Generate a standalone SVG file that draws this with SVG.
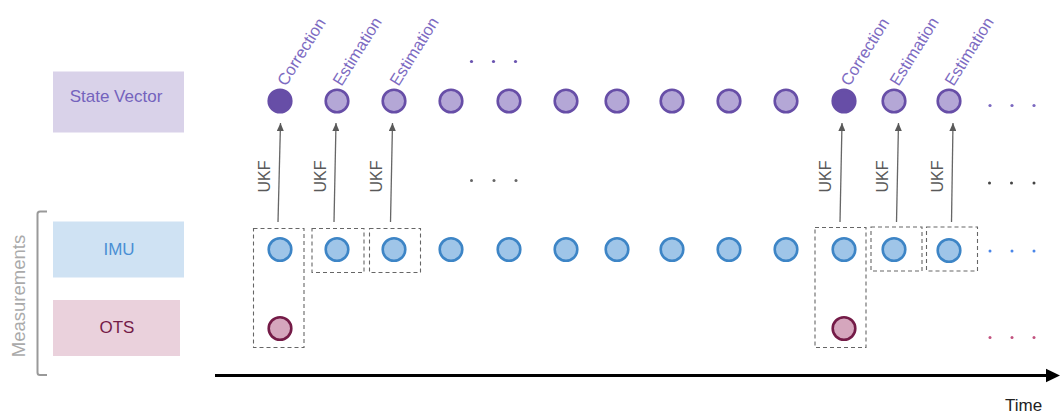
<svg xmlns="http://www.w3.org/2000/svg" width="1060" height="414" viewBox="0 0 1060 414">
<defs>
<marker id="ah" markerWidth="8" markerHeight="7" refX="8" refY="3.5" orient="auto" markerUnits="userSpaceOnUse"><path d="M0,0 L8,3.5 L0,7 Z" fill="#595959"/></marker>
</defs>
<style>
text{font-family:"Liberation Sans",Arial,sans-serif}
.sv{fill:#b4a7d6;stroke:#674ea7;stroke-width:2.6}
.svc{fill:#674ea7;stroke:#674ea7;stroke-width:2.6}
.imu{fill:#9fc5e8;stroke:#3d85c6;stroke-width:2.6}
.ots{fill:#d5a6bd;stroke:#741b47;stroke-width:2.6}
.grp{fill:none;stroke:#666;stroke-width:1.1;stroke-dasharray:4 3}
.conn{stroke:#666;stroke-width:1.3;fill:none}
.ukf{font-size:16px;fill:#595959}
.est{font-size:16.5px;fill:#7d6bc2}
.rowlbl{font-size:17px;text-anchor:middle}
</style>

<g id="row-labels">
<g id="state-vector-label"><rect x="53" y="71.5" width="131" height="61" fill="#d9d2e9"/><text class="rowlbl" x="116" y="101.5" fill="#7463bd">State Vector</text></g>
<g id="imu-label"><rect x="53" y="221.5" width="131" height="56" fill="#cfe2f3"/><text class="rowlbl" x="119" y="255" fill="#4a8fd4">IMU</text></g>
<g id="ots-label"><rect x="53" y="300" width="127" height="56" fill="#ead1dc"/><text class="rowlbl" x="117" y="333" fill="#741b47">OTS</text></g>
<g id="measurements"><path d="M47,211.5 L40,211.5 Q37.5,211.5 37.5,214 L37.5,372.5 Q37.5,375 40,375 L47,375" fill="none" stroke="#999" stroke-width="2"/><text x="0" y="0" transform="translate(25,296) rotate(-90)" font-size="18.5" text-anchor="middle" fill="#aaaaaa">Measurements</text></g>
</g>

<g id="state-vector">
<circle id="sv0" class="svc" cx="280" cy="101" r="11.3"/>
<circle id="sv1" class="sv" cx="337" cy="101" r="11.3"/>
<circle id="sv2" class="sv" cx="394" cy="101" r="11.3"/>
<circle id="sv3" class="sv" cx="451" cy="101" r="11.3"/>
<circle id="sv4" class="sv" cx="509" cy="101" r="11.3"/>
<circle id="sv5" class="sv" cx="566" cy="101" r="11.3"/>
<circle id="sv6" class="sv" cx="617" cy="101" r="11.3"/>
<circle id="sv7" class="sv" cx="672" cy="101" r="11.3"/>
<circle id="sv8" class="sv" cx="729" cy="101" r="11.3"/>
<circle id="sv9" class="sv" cx="786" cy="101" r="11.3"/>
<circle id="sv10" class="svc" cx="844" cy="101" r="11.3"/>
<circle id="sv11" class="sv" cx="894" cy="101" r="11.3"/>
<circle id="sv12" class="sv" cx="949" cy="101" r="11.3"/>
</g>

<g id="state-labels">
<text class="est" x="0" y="0" transform="translate(286,87) rotate(-58)">Correction</text>
<text class="est" x="0" y="0" transform="translate(341.5,87) rotate(-58)">Estimation</text>
<text class="est" x="0" y="0" transform="translate(398.5,87) rotate(-58)">Estimation</text>
<text class="est" x="0" y="0" transform="translate(849.5,87) rotate(-58)">Correction</text>
<text class="est" x="0" y="0" transform="translate(898.5,87) rotate(-58)">Estimation</text>
<text class="est" x="0" y="0" transform="translate(953.5,87) rotate(-58)">Estimation</text>
</g>

<g id="imu">
<circle id="imu0" class="imu" cx="280" cy="249.5" r="11.3"/>
<circle id="imu1" class="imu" cx="337" cy="249.5" r="11.3"/>
<circle id="imu2" class="imu" cx="394" cy="249.5" r="11.3"/>
<circle id="imu3" class="imu" cx="451" cy="249.5" r="11.3"/>
<circle id="imu4" class="imu" cx="509" cy="249.5" r="11.3"/>
<circle id="imu5" class="imu" cx="566" cy="249.5" r="11.3"/>
<circle id="imu6" class="imu" cx="617" cy="249.5" r="11.3"/>
<circle id="imu7" class="imu" cx="672" cy="249.5" r="11.3"/>
<circle id="imu8" class="imu" cx="729" cy="249.5" r="11.3"/>
<circle id="imu9" class="imu" cx="786" cy="249.5" r="11.3"/>
<circle id="imu10" class="imu" cx="844" cy="249.5" r="11.3"/>
<circle id="imu11" class="imu" cx="894" cy="249.5" r="11.3"/>
<circle id="imu12" class="imu" cx="949" cy="250.5" r="11.3"/>
</g>

<g id="ots">
<circle id="ots0" class="ots" cx="280" cy="328.5" r="11.3"/>
<circle id="ots1" class="ots" cx="844" cy="328.5" r="11.3"/>
</g>

<g id="groups">
<rect id="grp0" class="grp" x="253.5" y="228.5" width="50.5" height="119"/>
<rect id="grp1" class="grp" x="312" y="228.5" width="52" height="44"/>
<rect id="grp2" class="grp" x="369.5" y="228.5" width="51" height="44"/>
<rect id="grp3" class="grp" x="815" y="227.5" width="51" height="120"/>
<rect id="grp4" class="grp" x="871" y="227" width="51" height="44"/>
<rect id="grp5" class="grp" x="926.5" y="227" width="51" height="44"/>
</g>

<g id="connectors">
<line class="conn" x1="278" y1="222" x2="280.5" y2="123" marker-end="url(#ah)"/>
<line class="conn" x1="334" y1="222" x2="336" y2="123" marker-end="url(#ah)"/>
<line class="conn" x1="390.5" y1="222" x2="392.5" y2="123" marker-end="url(#ah)"/>
<line class="conn" x1="840" y1="222" x2="842" y2="123" marker-end="url(#ah)"/>
<line class="conn" x1="896.5" y1="222" x2="898.5" y2="123" marker-end="url(#ah)"/>
<line class="conn" x1="951.5" y1="222" x2="953" y2="123" marker-end="url(#ah)"/>
<text class="ukf" x="0" y="0" transform="translate(270,176.5) rotate(-90)" text-anchor="middle">UKF</text>
<text class="ukf" x="0" y="0" transform="translate(325.5,176.5) rotate(-90)" text-anchor="middle">UKF</text>
<text class="ukf" x="0" y="0" transform="translate(382,176.5) rotate(-90)" text-anchor="middle">UKF</text>
<text class="ukf" x="0" y="0" transform="translate(831,176.5) rotate(-90)" text-anchor="middle">UKF</text>
<text class="ukf" x="0" y="0" transform="translate(888,176.5) rotate(-90)" text-anchor="middle">UKF</text>
<text class="ukf" x="0" y="0" transform="translate(943,176.5) rotate(-90)" text-anchor="middle">UKF</text>
</g>

<g id="ellipses">
<g fill="#6a54b0"><circle cx="471.5" cy="61.5" r="1.6"/><circle cx="493.5" cy="61.5" r="1.6"/><circle cx="515.5" cy="61.5" r="1.6"/></g>
<g fill="#666"><circle cx="471.5" cy="180.5" r="1.5"/><circle cx="494" cy="180.5" r="1.5"/><circle cx="516" cy="180.5" r="1.5"/></g>
<g fill="#7b68c0"><circle cx="990" cy="105.5" r="1.6"/><circle cx="1012" cy="105.5" r="1.6"/><circle cx="1034" cy="105.5" r="1.6"/></g>
<g fill="#444"><circle cx="989.5" cy="183" r="1.5"/><circle cx="1011.5" cy="183" r="1.5"/><circle cx="1034" cy="183" r="1.5"/></g>
<g fill="#4a86e8"><circle cx="990" cy="251" r="1.5"/><circle cx="1012" cy="251" r="1.5"/><circle cx="1034" cy="251" r="1.5"/></g>
<g fill="#c2527f"><circle cx="990" cy="337.5" r="1.5"/><circle cx="1012" cy="337.5" r="1.5"/><circle cx="1034" cy="337.5" r="1.5"/></g>
</g>

<g id="time-axis">
<line x1="215" y1="375.5" x2="1047" y2="375.5" stroke="#000" stroke-width="3"/>
<path d="M1046,368.7 L1060,375.5 L1046,382.3 Z" fill="#000"/>
<text x="1005" y="411" font-size="17" fill="#222">Time</text>
</g>
</svg>
